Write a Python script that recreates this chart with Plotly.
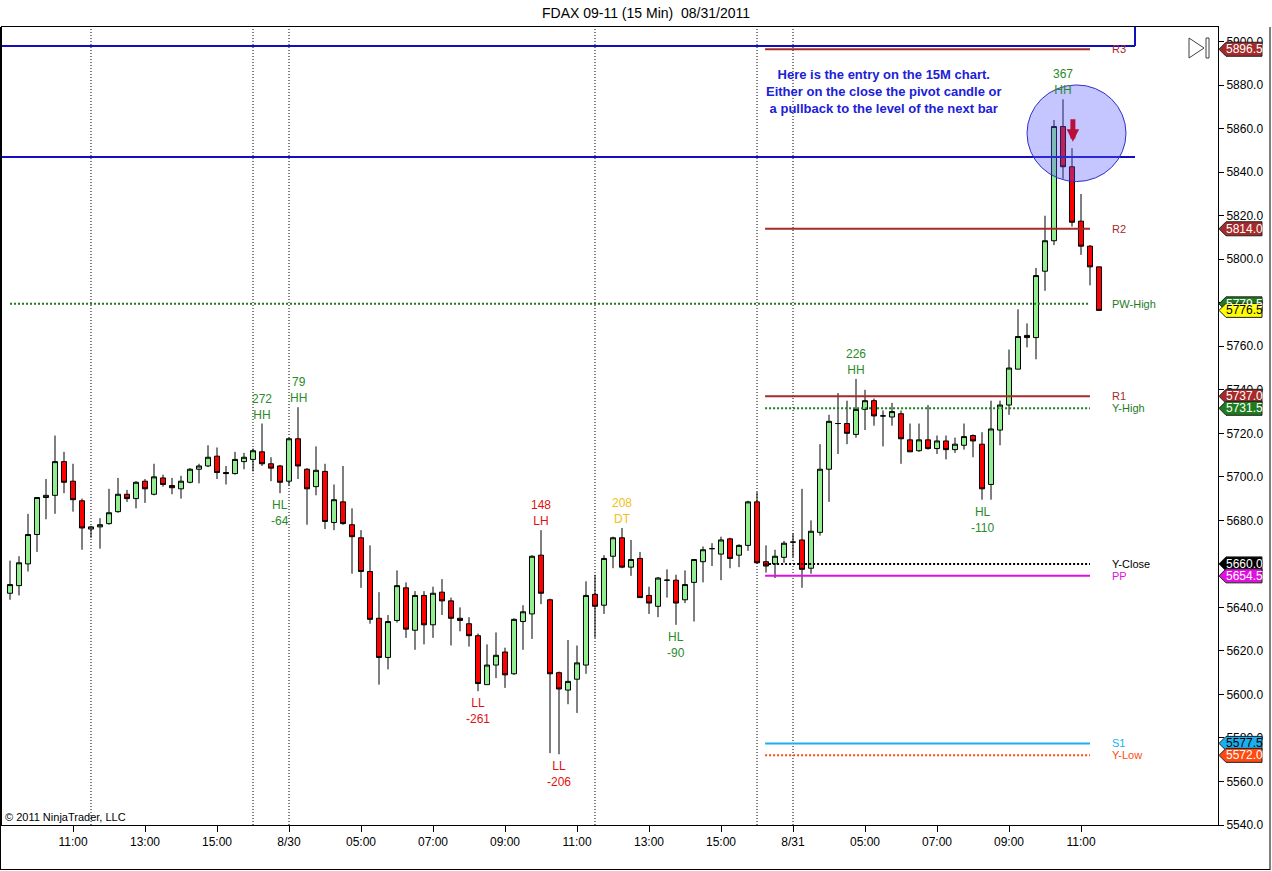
import plotly.graph_objects as go

# FDAX 09-11, 15 minute bars (bar index on x)
opens = [5646.5, 5650, 5660, 5673.5, 5690.5, 5691.5, 5707, 5698, 5689, 5676,
         5677, 5678.5, 5684, 5692, 5690, 5698, 5692, 5699.5, 5696, 5694.5,
         5697.5, 5703.5, 5705, 5709.5, 5702, 5701.5, 5707, 5708, 5711.5, 5706,
         5705, 5698, 5717.5, 5703.5, 5695.5, 5702.5, 5679, 5688.5, 5678, 5672,
         5656.5, 5635, 5617, 5634, 5649, 5629.5, 5645.5, 5632, 5647, 5643,
         5635, 5632.5, 5627, 5604.5, 5613.5, 5619.5, 5609.5, 5633.5, 5637, 5664,
         5643.5, 5610, 5602, 5607, 5613.5, 5646, 5641, 5663.5, 5672, 5658.5,
         5662.5, 5645.5, 5640.5, 5652.5, 5652.5, 5643.5, 5651.5, 5661, 5667, 5664.5,
         5671.5, 5664, 5668.5, 5688.5, 5661, 5660, 5663, 5670, 5671, 5658,
         5674.5, 5703.5, 5724.5, 5724.5, 5719.5, 5731, 5735, 5728, 5727.5, 5729,
         5717, 5712, 5717, 5713, 5716.5, 5712.5, 5714.5, 5719, 5715, 5696.5,
         5721.5, 5733, 5749.5, 5765, 5764, 5794.5, 5808.5, 5861, 5842.5, 5817.5,
         5806, 5796.5]
highs = [5661.5, 5663.5, 5683, 5690.5, 5699, 5719, 5711.5, 5706, 5690, 5677.5,
         5681, 5694.5, 5699.5, 5694, 5698, 5699, 5706, 5701, 5699.5, 5700.5,
         5704, 5706, 5714.5, 5713.5, 5705, 5711.5, 5711, 5713, 5724.5, 5709,
         5705.5, 5718, 5732, 5704, 5714, 5706, 5696.5, 5705, 5685.5, 5675.5,
         5668.5, 5647, 5636.5, 5657, 5651.5, 5647.5, 5647.5, 5649.5, 5653, 5644.5,
         5640, 5635.5, 5628, 5623, 5628.5, 5621.5, 5635, 5641, 5664, 5675.5,
         5644, 5610.5, 5625, 5622.5, 5652, 5655, 5664, 5672.5, 5676.5, 5671,
         5665.5, 5649.5, 5654, 5657.5, 5655, 5657, 5662, 5668, 5669.5, 5672.5,
         5672, 5669, 5689, 5693, 5668.5, 5666.5, 5670.5, 5674, 5694.5, 5680,
         5715, 5728.5, 5738.5, 5735, 5745, 5740, 5736, 5730.5, 5734, 5730.5,
         5724.5, 5724.5, 5733, 5719, 5719, 5718, 5724.5, 5719.5, 5720.5, 5735,
         5735, 5758.5, 5777, 5770.5, 5796, 5820, 5864, 5873.5, 5851, 5830,
         5806.5, 5796.5]
lows = [5643.5, 5645.5, 5656.5, 5665.5, 5680.5, 5683, 5692.5, 5684, 5666.5, 5672,
        5667, 5678, 5683.5, 5688.5, 5685.5, 5688, 5691.5, 5695.5, 5692, 5690,
        5697, 5697, 5704.5, 5699, 5696.5, 5701, 5703.5, 5702.5, 5705, 5698,
        5692.5, 5696, 5699, 5678, 5691.5, 5676, 5675.5, 5678, 5655.5, 5649,
        5632.5, 5604.5, 5611.5, 5633, 5626, 5620.5, 5623, 5626, 5636.5, 5622.5,
        5629, 5622, 5601.5, 5604.5, 5607.5, 5603, 5609, 5620.5, 5625.5, 5641.5,
        5573, 5572.5, 5595.5, 5591.5, 5609.5, 5626, 5637, 5658, 5658, 5654.5,
        5644.5, 5637, 5635.5, 5644.5, 5632, 5642, 5633.5, 5651.5, 5659, 5652.5,
        5658, 5658.5, 5666, 5660, 5656, 5653.5, 5660.5, 5663, 5649, 5655.5,
        5673, 5688.5, 5710.5, 5715, 5718, 5721.5, 5723.5, 5714, 5723.5, 5706,
        5711.5, 5711.5, 5712.5, 5710.5, 5708, 5711, 5712.5, 5709, 5689.5, 5689.5,
        5714.5, 5728.5, 5749.5, 5759.5, 5754, 5785.5, 5806.5, 5837, 5815, 5802,
        5788, 5776.5]
closes = [5650.5, 5660.5, 5673.5, 5690.5, 5691.5, 5707, 5697.5, 5689.5, 5676.5, 5677,
          5678, 5683.5, 5692, 5690, 5697.5, 5694.5, 5700, 5696.5, 5695, 5698,
          5703.5, 5705, 5709, 5702, 5701.5, 5708, 5709, 5712, 5706, 5704,
          5697.5, 5717.5, 5705, 5694.5, 5703, 5679.5, 5689.5, 5678.5, 5672.5, 5656.5,
          5634.5, 5617, 5633.5, 5650, 5630, 5645.5, 5632, 5646.5, 5643, 5635,
          5634, 5627, 5605, 5613.5, 5618, 5609, 5634.5, 5638, 5663.5, 5646.5,
          5609.5, 5602.5, 5606, 5614.5, 5645.5, 5640.5, 5662.5, 5672, 5658.5, 5662,
          5644.5, 5642, 5653.5, 5652.5, 5642, 5650.5, 5662, 5666.5, 5667, 5671,
          5662.5, 5668.5, 5688.5, 5660.5, 5659, 5663.5, 5669.5, 5670, 5657.5, 5675,
          5703.5, 5725.5, 5724.5, 5720, 5731, 5735, 5728, 5728, 5730, 5717.5,
          5711.5, 5717, 5713, 5716.5, 5712.5, 5715, 5718.5, 5716.5, 5694.5, 5722,
          5733, 5750, 5764.5, 5764, 5792.5, 5808.5, 5861, 5842.5, 5817, 5806,
          5796.5, 5776.5]
bars = list(range(len(closes)))

tick_bars = [7, 15, 23, 31, 39, 47, 55, 63, 71, 79, 87, 95, 103, 111, 119]
tick_text = ["11:00", "13:00", "15:00", "8/30", "05:00", "07:00", "09:00", "11:00",
             "13:00", "15:00", "8/31", "05:00", "07:00", "09:00", "11:00"]
break_bars = [9, 27, 31, 65, 83, 87]

level_names = ["R3", "R2", "PW-High", "R1", "Y-High", "Y-Close", "PP", "S1", "Y-Low"]
level_prices = [5896.5, 5814.0, 5779.5, 5737.0, 5731.5, 5660.0, 5654.5, 5577.5, 5572.0]
level_colors = ["#A52A2A", "#A52A2A", "#1E7B1E", "#A52A2A", "#1E7B1E", "#000000",
                "#E010E0", "#1AB0F0", "#FF4A10"]
level_dash = ["solid", "solid", "2px,2px", "solid", "2px,2px", "2px,2px", "solid", "solid", "2px,2px"]
level_start = [84, 84, 0, 84, 84, 84, 84, 84, 84]
level_end = 120
level_tagtext = ["white", "white", "white", "white", "white", "white", "white", "black", "white"]

drawn_lines = [5898.0, 5847.0]

swing_bars = [28, 32, 30, 52, 59, 61, 68, 74, 94, 108, 117]
swing_text = ["272<br>HH", "79<br>HH", "HL<br>-64", "LL<br>-261", "148<br>LH", "LL<br>-206",
              "208<br>DT", "HL<br>-90", "226<br>HH", "HL<br>-110", "367<br>HH"]
swing_above = [True, True, False, False, True, False, True, False, True, False, True]
swing_colors = ["#2A8A2A", "#2A8A2A", "#2A8A2A", "#E01010", "#E01010", "#E01010",
                "#F0C020", "#2A8A2A", "#2A8A2A", "#2A8A2A", "#2A8A2A"]

FONT = "Arial, Liberation Sans, sans-serif"
W, H = 1272, 871
ML, MR, MT, MB = 2, 54, 27, 46
PW, PH = W - ML - MR, H - MT - MB
BAR_PX = 9.0
PT_PX = 2.176
Y0 = 5540
Y1 = Y0 + PH / PT_PX
X0 = -(10 - ML) / BAR_PX
X1 = X0 + PW / BAR_PX


def px(x):
    return (x - ML) / PW


def py(y):
    return (H - MB - y) / PH


fig = go.Figure()
fig.add_trace(go.Candlestick(
    x=bars, open=opens, high=highs, low=lows, close=closes,
    increasing=dict(fillcolor="#90EE90", line=dict(color="black", width=1)),
    decreasing=dict(fillcolor="#FF0000", line=dict(color="black", width=1)),
    whiskerwidth=0, showlegend=False, hoverinfo="skip"))

shapes = []
for b in break_bars:
    shapes.append(dict(type="line", xref="x", yref="paper", x0=b, x1=b, y0=0, y1=1, layer="below",
                       line=dict(color="black", width=1, dash="1px,2px")))

# user drawn blue lines
for lv in drawn_lines:
    shapes.append(dict(type="line", xref="paper", yref="y", x0=0, x1=px(1135), y0=lv, y1=lv,
                       line=dict(color="#1010C0", width=2)))
shapes.append(dict(type="line", xref="paper", yref="y", x0=px(1135), x1=px(1135),
                   y0=drawn_lines[0], y1=Y1, line=dict(color="#1010C0", width=2)))

for lv, col, dash, st in zip(level_prices, level_colors, level_dash, level_start):
    shapes.append(dict(type="line", xref="x", yref="y", x0=st - 0.1 if st else st,
                       x1=level_end, y0=lv, y1=lv, line=dict(color=col, width=2, dash=dash)))

# price tags on the right axis
tag_prices = level_prices + [closes[-1]]
tag_colors = level_colors + ["#FFFF00"]
tag_text = level_tagtext + ["black"]
half = 7 / PT_PX
for lv, col in zip(tag_prices, tag_colors):
    a, b, c = px(1219), px(1226), px(1262)
    shapes.append(dict(type="path", xref="paper", yref="y",
                       path=f"M {a},{lv} L {b},{lv + half} L {c},{lv + half} L {c},{lv - half} L {b},{lv - half} Z",
                       fillcolor=col, line=dict(color="#202020", width=1), layer="above"))

# entry circle
shapes.append(dict(type="circle", xref="x", yref="y", x0=113.0, x1=124.0, y0=5835.7, y1=5880.1,
                   fillcolor="rgba(90,90,255,0.35)", line=dict(color="#3030C8", width=1), layer="above"))

# outer frame and the play icon
shapes.append(dict(type="line", xref="paper", yref="paper", x0=px(0), x1=px(1270), y0=py(869.5), y1=py(869.5),
                   line=dict(color="black", width=1)))
shapes.append(dict(type="line", xref="paper", yref="paper", x0=px(1270), x1=px(1270), y0=py(870), y1=py(27),
                   line=dict(color="black", width=1)))
shapes.append(dict(type="line", xref="paper", yref="paper", x0=px(0.5), x1=px(0.5), y0=py(870), y1=py(27),
                   line=dict(color="black", width=1)))
shapes.append(dict(type="path", xref="paper", yref="paper",
                   path=f"M {px(1189)},{py(38)} L {px(1204)},{py(48)} L {px(1189)},{py(58)} Z",
                   line=dict(color="#404040", width=1)))
shapes.append(dict(type="rect", xref="paper", yref="paper", x0=px(1206), x1=px(1209), y0=py(58), y1=py(38),
                   line=dict(color="#404040", width=1)))

annotations = []
for b, t, above, col in zip(swing_bars, swing_text, swing_above, swing_colors):
    annotations.append(dict(x=b, y=highs[b] if above else lows[b], text=t, showarrow=False,
                            yanchor="bottom" if above else "top", yshift=0 if above else -3,
                            font=dict(family=FONT, size=12, color=col)))

for name, lv, col in zip(level_names, level_prices, level_colors):
    annotations.append(dict(xref="paper", yref="y", x=px(1110), y=lv, text=name, showarrow=False,
                            xanchor="left", yanchor="middle", font=dict(family=FONT, size=11, color=col)))

for lv, tc in zip(tag_prices, tag_text):
    annotations.append(dict(xref="paper", yref="y", x=px(1244), y=lv, text=f"{lv:.1f}", showarrow=False,
                            xanchor="center", yanchor="middle", font=dict(family=FONT, size=12, color=tc)))

annotations.append(dict(xref="paper", yref="paper", x=px(884), y=py(91),
                        text="Here is the entry on the 15M chart.<br>Either on the close the pivot candle or"
                             "<br>a pullback to the level of the next bar",
                        showarrow=False, xanchor="center", yanchor="middle",
                        font=dict(family=FONT, size=13, color="#2020D8", weight="bold")))
annotations.append(dict(x=118.1, y=5854.0, ax=118.1, ay=5865.0, axref="x", ayref="y", text="",
                        showarrow=True, arrowhead=2, arrowsize=0.5, arrowwidth=5, arrowcolor="#B8103A"))
annotations.append(dict(xref="paper", yref="paper", x=px(3), y=0, text="\u00a9 2011 NinjaTrader, LLC",
                        showarrow=False, xanchor="left", yanchor="bottom",
                        font=dict(family=FONT, size=11, color="black")))

fig.update_layout(
    width=W, height=H,
    margin=dict(l=ML, r=MR, t=MT, b=MB),
    paper_bgcolor="white", plot_bgcolor="white",
    title=dict(text="FDAX 09-11 (15 Min)\u00a0\u00a008/31/2011", x=646 / W, xref="container",
               y=1 - 13 / H, yanchor="middle", font=dict(family=FONT, size=14, color="black")),
    boxgap=0.2,
    shapes=shapes, annotations=annotations,
    xaxis=dict(range=[X0, X1], rangeslider=dict(visible=False), showgrid=False, zeroline=False,
               tickmode="array", tickvals=tick_bars, ticktext=tick_text,
               ticks="outside", ticklen=6, tickcolor="black", showline=True, linecolor="black",
               mirror=True, tickfont=dict(family=FONT, size=12, color="black")),
    yaxis=dict(range=[Y0, Y1], side="right", showgrid=False, zeroline=False, dtick=20,
               tickformat=".1f", ticks="outside", ticklen=5, tickcolor="black", showline=True,
               linecolor="black", mirror=True, tickfont=dict(family=FONT, size=12, color="black")),
)

fig.write_html("out.html", config={"displayModeBar": False},
               post_script="document.body.style.margin='0';")
